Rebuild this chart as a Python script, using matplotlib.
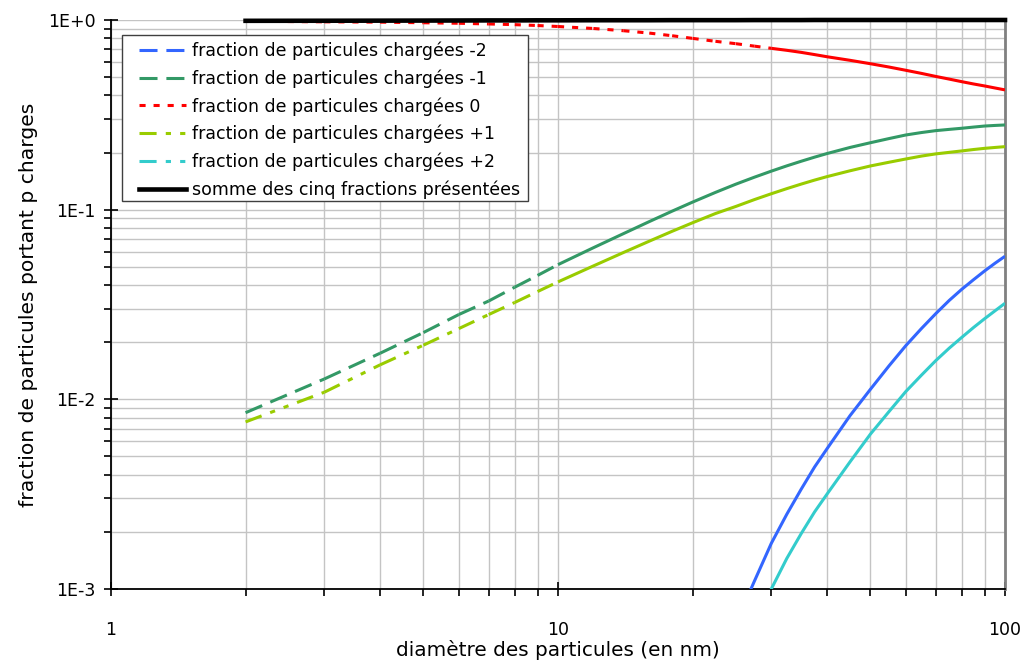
import numpy as np
import matplotlib
matplotlib.use("Agg")
import matplotlib.pyplot as plt
from matplotlib.lines import Line2D
from matplotlib.patches import Rectangle

# diameters (nm)
diam = np.array([2, 3, 4, 5, 6, 7, 8, 9, 10, 12, 14, 16, 18, 20, 22.5, 25, 27.5, 30, 32.5, 35,
                 37.5, 40, 45, 50, 55, 60, 65, 70, 75, 80, 85, 90, 95, 100])

nan = np.nan
frac_m2 = [nan, nan, nan, nan, nan, nan, nan, nan, nan, nan, nan, nan, nan, nan, nan,
           0.00066, 0.00110, 0.00174, 0.00248, 0.00336, 0.00440, 0.00550, 0.0082, 0.0113,
           0.0150, 0.0192, 0.0236, 0.0283, 0.0332, 0.0380, 0.0427, 0.0475, 0.0522, 0.0568]
frac_m1 = [0.0085, 0.0128, 0.0175, 0.0225, 0.028, 0.033, 0.039, 0.045, 0.0513, 0.0630, 0.0747,
           0.0865, 0.0982, 0.1096, 0.1233, 0.1363, 0.1483, 0.1596, 0.1702, 0.1800, 0.1892,
           0.1977, 0.2128, 0.2254, 0.2370, 0.2476, 0.2550, 0.2610, 0.2650, 0.2686, 0.2725,
           0.2760, 0.2780, 0.2796]
frac_0 = [0.985, 0.978, 0.974, 0.967, 0.961, 0.953, 0.945, 0.935, 0.924, 0.902, 0.878, 0.853,
          0.826, 0.800, 0.772, 0.750, 0.728, 0.709, 0.692, 0.675, 0.657, 0.640, 0.613, 0.588,
          0.565, 0.543, 0.523, 0.504, 0.488, 0.473, 0.460, 0.449, 0.438, 0.428]
frac_p1 = [0.0076, 0.0109, 0.0152, 0.0193, 0.0236, 0.0280, 0.0324, 0.0370, 0.0416, 0.0505, 0.0594,
           0.0682, 0.0769, 0.0853, 0.0954, 0.1040, 0.1130, 0.1213, 0.1291, 0.1364, 0.1432,
           0.1494, 0.1603, 0.1700, 0.1778, 0.1850, 0.1916, 0.1968, 0.2005, 0.2040, 0.2075,
           0.2105, 0.2128, 0.2149]
frac_p2 = [nan, nan, nan, nan, nan, nan, nan, nan, nan, nan, nan, nan, nan, nan, nan,
           0.00040, 0.00062, 0.00100, 0.00145, 0.00196, 0.00255, 0.00317, 0.00468, 0.00656,
           0.00861, 0.0110, 0.0134, 0.0160, 0.0186, 0.0212, 0.0239, 0.0266, 0.0293, 0.0321]
frac_sum = [0.99, 0.991, 0.992, 0.993, 0.994, 0.995, 0.995, 0.996, 0.996, 0.997, 0.997, 0.997,
            0.998, 0.998, 0.998, 0.998, 0.999, 0.999, 0.999, 0.999, 1.0, 1.0, 1.0, 1.0,
            1.0, 1.0, 1.0, 1.0, 1.0, 1.0, 1.0, 1.0, 1.0, 1.0]

labels = [
    "fraction de particules chargées -2",
    "fraction de particules chargées -1",
    "fraction de particules chargées 0",
    "fraction de particules chargées +1",
    "fraction de particules chargées +2",
    "somme des cinq fractions présentées",
]

plt.rcParams["font.family"] = ["DejaVu Sans"]

LW = 2.2
long_dash = (5.9, 2.9)
short_dash = (2.0, 2.6)
dash_dot_dot = (5.6, 3.0, 1.7, 3.0, 1.7, 3.0)

series = [
    (frac_m2, "#3366FF", long_dash, 0),
    (frac_m1, "#339966", long_dash, 10),
    (frac_0, "#FF0000", short_dash, 30),
    (frac_p1, "#99CC00", dash_dot_dot, 10),
    (frac_p2, "#33CCCC", dash_dot_dot, 0),
]


def draw_series(ax, x, y, color, dashes, dash_until):
    # excel restarts the dash pattern at every point, so draw segment by segment
    y = np.asarray(y, dtype=float)
    for i in range(len(x) - 1):
        if x[i + 1] <= dash_until:
            ax.plot(x[i:i + 2], y[i:i + 2], color=color, lw=LW, dashes=dashes, zorder=3)
    keep = x >= dash_until
    ax.plot(x[keep], y[keep], color=color, lw=LW, solid_capstyle="butt", zorder=3)


fig = plt.figure(figsize=(10.27, 6.62), dpi=100)
ax = fig.add_axes([0.1081, 0.1103, 0.8705, 0.8595])

ax.set_xscale("log")
ax.set_yscale("log")
ax.set_xlim(1, 100)
ax.set_ylim(1e-3, 1)

ax.grid(True, which="both", color="#c4c4c4", lw=1.0, zorder=0)
ax.set_axisbelow(True)

for vals, col, dsh, until in series:
    draw_series(ax, diam, vals, col, dsh, until)
ax.plot(diam, frac_sum, color="black", lw=3.3, zorder=4, clip_on=False)

ax.spines["top"].set_visible(False)
ax.spines["right"].set_color("#808080")
ax.spines["right"].set_linewidth(2.0)
ax.spines["left"].set_linewidth(1.3)
ax.spines["bottom"].set_linewidth(1.3)

ax.set_xticks([1, 10, 100])
ax.set_xticklabels(["1", "10", "100"])
ax.set_yticks([1e-3, 1e-2, 1e-1, 1])
ax.set_yticklabels(["1E-3", "1E-2", "1E-1", "1E+0"])
ax.tick_params(which="major", direction="inout", length=10, width=1.2, labelsize=12.5)
ax.tick_params(which="minor", direction="out", length=5, width=1.2)
ax.tick_params(axis="x", which="major", pad=18)
ax.tick_params(axis="y", which="major", pad=6)
ax.tick_params(axis="x", which="minor", labelbottom=False)
ax.tick_params(axis="y", which="minor", labelleft=False)

ax.set_xlabel("diamètre des particules (en nm)", fontsize=14.4, labelpad=1)
ax.set_ylabel("fraction de particules portant p charges", fontsize=14.6, labelpad=7)

# legend box like the excel one (wider than its text)
ax.add_patch(Rectangle((0.1188, 0.6964), 0.3953, 0.2508, transform=fig.transFigure,
                       facecolor="white", edgecolor="#404040", lw=1.0, zorder=5,
                       clip_on=False))

handles = [Line2D([], [], color=c, lw=LW, dashes=d) for _, c, d, _ in series]
handles.append(Line2D([], [], color="black", lw=3.3))
leg = ax.legend(handles, labels, loc="upper left", bbox_to_anchor=(0.031, 0.962),
                borderaxespad=0, borderpad=0, fontsize=12.5, frameon=False,
                handlelength=2.7, labelspacing=0.53, handletextpad=0.35)
leg.set_zorder(6)

fig.savefig("out.png", dpi=100)
